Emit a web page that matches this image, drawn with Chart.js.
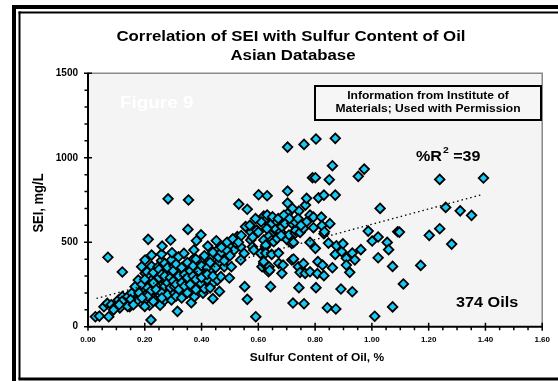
<!DOCTYPE html>
<html><head><meta charset="utf-8">
<script src="https://cdn.jsdelivr.net/npm/chart.js@4"></script>
<style>html,body{margin:0;padding:0;background:#fff;overflow:hidden}canvas{display:block}</style>
</head><body>
<canvas id="c" width="558" height="381"></canvas>
<script>
// ---- Data (sulfur %, SEI mg/L) ----
const sulfurA = [0.026,0.040,0.073,0.056,0.068,0.082,0.096,0.107,0.112,0.121,
  0.140,0.147,0.163,0.154,0.166,0.177,0.177,0.189,0.189,0.191,
  0.070,0.121,0.201,0.201,0.201,0.203,0.208,0.208,0.212,0.217,
  0.219,0.222,0.224,0.224,0.224,0.224,0.224,0.236,0.240,0.247,
  0.247,0.247,0.254,0.259,0.259,0.261,0.266,0.270,0.270,0.270,
  0.270,0.282,0.282,0.284,0.291,0.294,0.294,0.294,0.294,0.296,
  0.19,0.20,0.21,0.22,0.23,0.23,0.24,0.25,0.25,0.26,
  0.26,0.27,0.27,0.28,0.28,0.29,0.29,0.21,0.23,0.18,
  0.17,0.15,0.13,0.12,0.11,0.09,0.14,0.16,0.20,0.19,
  0.28,0.26];
const seiA = [59,63,59,118,138,130,118,158,111,178,
  178,118,186,198,237,178,276,355,138,217,
  411,324,395,316,158,257,324,198,517,127,
  296,40,359,237,424,276,178,158,300,198,
  355,257,127,391,430,477,253,331,158,375,
  276,757,217,276,513,158,395,316,257,438,
  250,280,230,210,320,260,220,290,340,200,
  310,240,300,350,260,290,230,180,150,200,
  150,160,140,150,130,100,120,130,120,170,
  190,170];

const sulfurB = [0.303,0.305,0.305,0.310,0.315,0.317,0.319,0.322,0.329,0.336,
  0.338,0.340,0.345,0.352,0.352,0.354,0.359,0.364,0.364,0.364,
  0.368,0.373,0.375,0.382,0.387,0.387,0.389,0.398,0.398,0.398,
  0.405,0.408,0.410,0.410,0.422,0.422,0.433,0.433,0.440,0.440,
  0.452,0.456,0.456,0.459,0.463,0.468,0.480,0.480,0.491,0.498,
  0.503,0.505,0.515,0.522,0.526,0.531,0.538,0.538,0.550,0.552,
  0.30,0.30,0.31,0.31,0.32,0.32,0.33,0.33,0.34,0.34,
  0.35,0.35,0.36,0.36,0.37,0.37,0.38,0.38,0.39,0.40,
  0.40,0.41,0.42,0.42,0.43,0.44,0.44,0.45,0.46,0.47,
  0.48,0.49,0.50,0.31,0.33,0.35,0.38,0.43,0.47,0.49,
  0.51,0.53,0.54];
const seiB = [359,198,237,308,91,336,414,253,217,284,
  434,355,316,576,237,750,276,142,198,336,
  395,454,178,509,308,355,237,544,395,257,
  198,296,225,336,477,276,414,336,257,166,
  509,276,454,379,209,296,355,473,414,288,
  473,355,454,493,533,726,473,395,434,237,
  270,330,250,370,300,220,350,260,310,240,
  380,290,330,250,360,300,280,400,330,360,
  290,420,350,310,380,440,300,350,410,440,
  390,450,420,180,170,200,220,230,470,500,
  520,500,540];

const sulfurC = [0.555,0.561,0.561,0.573,0.574,0.579,0.584,0.591,0.594,0.601,
  0.608,0.613,0.619,0.619,0.619,0.619,0.625,0.625,0.626,0.626,
  0.631,0.631,0.636,0.638,0.638,0.640,0.643,0.643,0.647,0.648,
  0.648,0.654,0.654,0.660,0.661,0.666,0.666,0.671,0.672,0.678,
  0.682,0.683,0.683,0.687,0.694,0.701,0.703,0.703,0.703,0.703,
  0.708,0.718,0.718,0.718,0.722,0.724,0.724,0.730,0.731,0.731,
  0.741,0.743,0.743,0.747,0.747,0.759,0.759,0.761,0.761,0.765,
  0.766,0.770,0.770,0.782,0.782,0.782,0.791,0.794,0.794,0.801,
  0.801,0.803,0.803,0.808,0.810,0.812,0.822,0.824,0.826,0.831,
  0.831,0.831,0.833,0.843,0.847,0.850,0.852,0.861,0.861,0.871,
  0.871,0.871,0.873,0.875,0.891,0.894,0.898,
  0.57,0.58,0.60,0.61,0.59,0.63,0.65,0.67,0.69,0.71,
  0.72,0.74,0.75,0.68];
const seiC = [592,695,162,513,560,473,454,59,572,781,
  434,355,655,513,375,385,631,473,483,436,
  775,661,325,355,538,334,610,237,428,612,
  513,562,503,572,578,621,523,436,375,562,
  602,592,316,365,610,515,1063,803,732,669,
  543,612,493,395,140,499,401,553,570,618,
  355,685,231,558,322,582,373,1079,136,316,
  720,760,621,661,499,325,882,586,649,882,
  464,1111,231,314,385,763,649,598,365,779,
  550,302,562,112,495,870,610,953,349,1115,
  779,428,105,479,223,444,491,
  600,530,560,620,640,580,650,640,660,640,
  700,640,600,540];

const sulfurD = [0.910,0.910,0.922,0.931,0.931,0.940,0.952,0.961,0.973,0.987,
  1.001,1.010,1.022,1.022,1.029,1.054,1.059,1.073,1.073,1.091,
  1.097,1.111,1.172,1.202,1.239,1.239,1.260,1.281,1.311,1.351,
  1.393];
const seiD = [405,365,322,436,207,396,890,456,933,566,
  507,62,531,408,700,499,456,357,117,562,
  560,253,363,541,872,580,706,489,686,659,
  880];

// Trend line end points
const trendX = [0.03, 1.39];
const trendY = [167, 783];

// Axis ticks
const xTickValues = [0, 0.2, 0.4, 0.6, 0.8, 1.0, 1.2, 1.4, 1.6];
const yTickValues = [0, 500, 1000, 1500];

const titleLines = ['Correlation of SEI with Sulfur Content of Oil', 'Asian Database'];
const xTitle = 'Sulfur Content of Oil, %';
const yTitle = 'SEI, mg/L';
const noteLines = ['Information from Institute of', 'Materials; Used with Permission'];
const figureLabel = 'Figure 9';
const r2Value = '39';
const countLabel = '374 Oils';

// ---- build points ----
function pairs(xs, ys){ return xs.map((x,i)=>({x:x, y:ys[i]})); }
const points = [].concat(pairs(sulfurA,seiA), pairs(sulfurB,seiB), pairs(sulfurC,seiC), pairs(sulfurD,seiD));
const trend = pairs(trendX, trendY);

const FONT = '"Liberation Sans", Arial, sans-serif';

// draw text stretched horizontally by sx, anchored at (x,y)
function sText(ctx, txt, x, y, size, sx, align){
  ctx.save();
  ctx.font = 'bold ' + size + 'px ' + FONT;
  ctx.textAlign = align || 'center';
  ctx.textBaseline = 'middle';
  ctx.translate(x, y); ctx.scale(sx, 1);
  ctx.fillText(txt, 0, 0);
  const w = ctx.measureText(txt).width * sx;
  ctx.restore();
  return w;
}

const decor = {
  id: 'decor',
  beforeDraw(chart){
    const ctx = chart.ctx, a = chart.chartArea;
    ctx.save();
    ctx.fillStyle = '#fff'; ctx.fillRect(0,0,558,381);
    ctx.fillStyle = '#000';
    ctx.fillRect(12,5,546,4); ctx.fillRect(12,5,4,376);
    ctx.fillRect(18.5,11.5,540,2); ctx.fillRect(18.5,11.5,2,368); ctx.fillRect(18.5,377.5,540,3);
    ctx.fillStyle = '#f4f4f4';
    ctx.fillRect(a.left, a.top, a.right - a.left, a.bottom - a.top);
    ctx.strokeStyle = '#8a8a8a'; ctx.lineWidth = 1.5;
    ctx.beginPath(); ctx.moveTo(a.left, a.top); ctx.lineTo(a.right, a.top); ctx.lineTo(a.right, a.bottom); ctx.stroke();
    ctx.fillStyle = '#000';
    sText(ctx, titleLines[0], 291, 37, 14, 1.2);
    sText(ctx, titleLines[1], 293, 56, 14, 1.2);
    sText(ctx, xTitle, 317, 358, 10.5, 1.14);
    ctx.save();
    ctx.translate(39, 203); ctx.scale(1.15, 1); ctx.rotate(-Math.PI/2);
    ctx.font = 'bold 13px ' + FONT; ctx.textAlign = 'center'; ctx.textBaseline = 'middle';
    ctx.fillText(yTitle, 0, 0);
    ctx.restore();
    ctx.restore();
  },
  beforeDatasetsDraw(chart){
    const ctx = chart.ctx, a = chart.chartArea, xs = chart.scales.x, ys = chart.scales.y;
    ctx.save();
    ctx.fillStyle = '#fff';
    sText(ctx, figureLabel, 120, 104, 16, 1.18, 'left');
    ctx.strokeStyle = '#000'; ctx.lineWidth = 2;
    ctx.beginPath(); ctx.moveTo(a.left, a.top - 0.5); ctx.lineTo(a.left, a.bottom); ctx.lineTo(a.right, a.bottom); ctx.stroke();
    ctx.lineWidth = 1.5;
    ctx.beginPath();
    for (let v = 0; v <= 1600; v += 50) {
      const px = xs.getPixelForValue(v/1000);
      if (v % 200 === 0) { ctx.moveTo(px, a.bottom - 4); ctx.lineTo(px, a.bottom + 4); }
      else { ctx.moveTo(px, a.bottom); ctx.lineTo(px, a.bottom + 3.5); }
    }
    for (let v = 0; v <= 1500; v += 100) {
      const py = ys.getPixelForValue(v);
      if (v % 500 === 0) { ctx.moveTo(a.left - 4, py); ctx.lineTo(a.left + 4, py); }
      else { ctx.moveTo(a.left - 3.5, py); ctx.lineTo(a.left, py); }
    }
    ctx.stroke();
    ctx.restore();
  },
  afterDraw(chart){
    const ctx = chart.ctx;
    ctx.save();
    ctx.fillStyle = '#f6f6f6';
    ctx.fillRect(315, 86, 226, 34);
    ctx.strokeStyle = '#000'; ctx.lineWidth = 2;
    ctx.strokeRect(315, 86, 226, 34);
    ctx.fillStyle = '#000';
    sText(ctx, noteLines[0], 428, 96.5, 10.5, 1.15);
    sText(ctx, noteLines[1], 428, 109.5, 10.5, 1.15);
    let x = 416;
    x += sText(ctx, '%R', x, 157, 14, 1.15, 'left') + 1;
    x += sText(ctx, '2', x, 151, 9, 1.15, 'left');
    sText(ctx, ' =' + r2Value, x, 157, 14, 1.15, 'left');
    sText(ctx, countLabel, 456, 303, 15, 1.08, 'left');
    ctx.restore();
  }
};

new Chart(document.getElementById('c'), {
  type: 'scatter',
  data: {
    datasets: [
      { type: 'line', data: trend, borderColor: '#000', borderWidth: 1.3, borderDash: [1.5, 3],
        pointRadius: 0, fill: false, order: 0 },
      { data: points, pointStyle: 'rectRot', pointRadius: 4.8, pointHoverRadius: 4.8,
        backgroundColor: '#17c9f3', borderColor: '#000', borderWidth: 1.8, order: 1 }
    ]
  },
  options: {
    responsive: false, animation: false, events: [],
    layout: { padding: { top: 73.3, right: 12, bottom: 0, left: 0 } },
    plugins: { legend: { display: false }, title: { display: false }, tooltip: { enabled: false } },
    scales: {
      x: {
        type: 'linear', min: 0, max: 1.6,
        afterFit: s => { s.height = 381 - 326.7; },
        afterBuildTicks: s => { s.ticks = xTickValues.map(v => ({ value: v })); },
        grid: { display: false, drawTicks: false }, border: { display: false },
        ticks: { autoSkip: false, maxRotation: 0, padding: 8, color: '#000',
          font: { family: FONT, size: 8, weight: 'bold' }, callback: v => Number(v).toFixed(2) }
      },
      y: {
        type: 'linear', min: 0, max: 1500,
        afterFit: s => { s.width = 88; },
        afterBuildTicks: s => { s.ticks = yTickValues.map(v => ({ value: v })); },
        grid: { display: false, drawTicks: false }, border: { display: false },
        ticks: { padding: 10, color: '#000',
          font: { family: FONT, size: 10, weight: 'bold' }, callback: v => String(v) }
      }
    }
  },
  plugins: [decor]
});
</script>
</body></html>
